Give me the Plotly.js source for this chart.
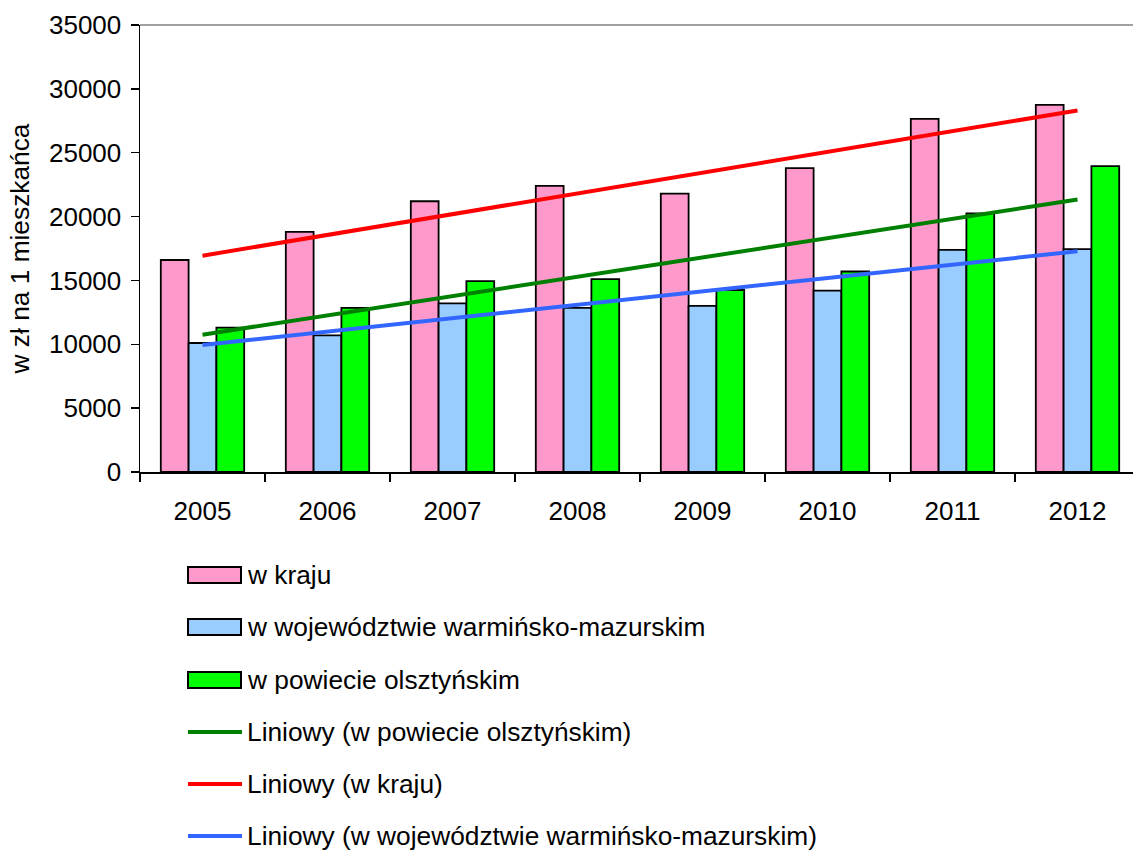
<!DOCTYPE html>
<html>
<head>
<meta charset="utf-8">
<script src="https://cdn.plot.ly/plotly-3.0.1.min.js"></script>
<style>
  html, body { margin: 0; padding: 0; background: #ffffff; overflow: hidden; }
  #chart { width: 1133px; height: 851px; }
</style>
</head>
<body>
<div id="chart"></div>
<script>
// Years on the category axis
const years = ['2005', '2006', '2007', '2008', '2009', '2010', '2011', '2012'];

// Values in zł per inhabitant
const kraj = [16600, 18800, 21200, 22400, 21800, 23800, 27650, 28750];
const wojewodztwo = [10100, 10700, 13200, 12850, 13000, 14200, 17400, 17450];
const powiat = [11300, 12850, 14950, 15100, 14250, 15700, 20250, 23950];

// Series names
const barNames = ['w kraju', 'w województwie warmińsko-mazurskim', 'w powiecie olsztyńskim'];
const trendNames = ['Liniowy (w powiecie olsztyńskim)', 'Liniowy (w kraju)', 'Liniowy (w województwie warmińsko-mazurskim)'];

const yTicks = [0, 5000, 10000, 15000, 20000, 25000, 30000, 35000];

// Colours
const barColors = ['#FF99CC', '#99CCFF', '#00FF00'];
const trendColors = ['#008000', '#FF0000', '#3366FF'];

// Least-squares linear trend over the year index
function linearTrend(values) {
  const n = values.length;
  const xs = values.map((_, i) => i);
  const mx = xs.reduce((a, b) => a + b, 0) / n;
  const my = values.reduce((a, b) => a + b, 0) / n;
  let sxy = 0, sxx = 0;
  for (let i = 0; i < n; i++) {
    sxy += (xs[i] - mx) * (values[i] - my);
    sxx += (xs[i] - mx) * (xs[i] - mx);
  }
  const slope = sxy / sxx;
  return xs.map(x => my + slope * (x - mx));
}

const barSeries = [kraj, wojewodztwo, powiat];
const trendSeries = [powiat, kraj, wojewodztwo];

const traces = [];
barSeries.forEach((vals, k) => {
  traces.push({
    type: 'bar', x: years, y: vals, name: barNames[k],
    marker: { color: barColors[k], line: { color: '#000000', width: 1.8 } },
    hoverinfo: 'x+y'
  });
});
trendSeries.forEach((vals, k) => {
  traces.push({
    type: 'scatter', mode: 'lines', x: years, y: linearTrend(vals), name: trendNames[k],
    line: { color: trendColors[k], width: 4 },
    hoverinfo: 'skip'
  });
});

// Plot area geometry in pixels
const W = 1133, H = 851;
const M = { l: 140, r: 0, t: 25, b: 379 };
const plotW = W - M.l - M.r, plotH = H - M.t - M.b;
const px2x = px => (px - M.l) / plotW;
const px2y = py => (H - M.b - py) / plotH;

const family = 'Liberation Sans, Arial, sans-serif';
const tickFont = { family: family, size: 26, color: '#000000' };
const textFont = { family: family, size: 26.3, color: '#000000' };

// Hand-built legend below the plot
const shapes = [
  // grey frame line along the top of the plot area
  { type: 'line', xref: 'paper', yref: 'paper', x0: 0, x1: 1, y0: 1, y1: 1,
    line: { color: '#808080', width: 1.5 } }
];
const annotations = [];
const rowY = [575, 627, 680, 732, 784, 836];
const legendItems = [
  { kind: 'bar', color: barColors[0], text: barNames[0] },
  { kind: 'bar', color: barColors[1], text: barNames[1] },
  { kind: 'bar', color: barColors[2], text: barNames[2] },
  { kind: 'line', color: trendColors[0], text: trendNames[0] },
  { kind: 'line', color: trendColors[1], text: trendNames[1] },
  { kind: 'line', color: trendColors[2], text: trendNames[2] }
];
legendItems.forEach((it, i) => {
  const cy = rowY[i];
  if (it.kind === 'bar') {
    shapes.push({ type: 'rect', xref: 'paper', yref: 'paper',
      x0: px2x(188), x1: px2x(241), y0: px2y(cy + 8), y1: px2y(cy - 8),
      fillcolor: it.color, line: { color: '#000000', width: 2 } });
  } else {
    shapes.push({ type: 'line', xref: 'paper', yref: 'paper',
      x0: px2x(188), x1: px2x(242), y0: px2y(cy), y1: px2y(cy),
      line: { color: it.color, width: 4 } });
  }
  annotations.push({ xref: 'paper', yref: 'paper', x: px2x(245), y: px2y(cy),
    xanchor: 'left', yanchor: 'middle', showarrow: false, text: it.text, font: textFont });
});

const layout = {
  width: W, height: H,
  margin: M,
  paper_bgcolor: '#ffffff', plot_bgcolor: '#ffffff',
  font: tickFont,
  showlegend: false,
  barmode: 'group', bargap: 0.333, bargroupgap: 0,
  xaxis: {
    type: 'category', range: [-0.5, 7.5 - 7 / 125],
    showline: true, linecolor: '#000000', linewidth: 1.5,
    ticks: 'outside', tickson: 'boundaries', ticklen: 8, tickcolor: '#000000', tickwidth: 1.5,
    ticklabelstandoff: 15, showgrid: false, zeroline: false, fixedrange: true,
    tickfont: tickFont
  },
  yaxis: {
    range: [0, 35000], tickvals: yTicks, ticktext: yTicks.map(String),
    showline: true, linecolor: '#000000', linewidth: 1.5,
    ticks: 'outside', ticklen: 8, tickcolor: '#000000', tickwidth: 1.5,
    ticklabelstandoff: 4, showgrid: false, zeroline: false, fixedrange: true,
    tickfont: tickFont,
    title: { text: 'w zł na 1 mieszkańca', font: textFont, standoff: 12 }
  },
  shapes: shapes,
  annotations: annotations
};

Plotly.newPlot('chart', traces, layout, { displayModeBar: false, staticPlot: true });
</script>
</body>
</html>
